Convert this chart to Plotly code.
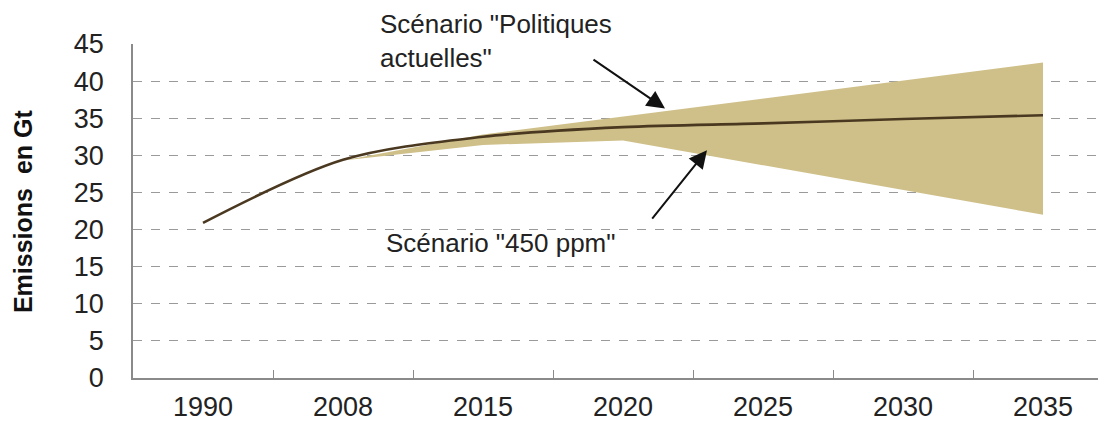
import plotly.graph_objects as go

years = ["1990", "2008", "2015", "2020", "2025", "2030", "2035"]
emissions = [20.9, 29.4, 32.5, 33.8, 34.3, 34.9, 35.4]

band_upper_years = ["2015", "2020", "2025", "2030", "2035"]
band_upper = [32.8, 35.2, 37.6, 40.1, 42.5]
band_lower_years = ["2008", "2015", "2020", "2025", "2030", "2035"]
band_lower = [29.3, 31.4, 32.0, 28.7, 25.3, 22.0]

y_ticks = [0, 5, 10, 15, 20, 25, 30, 35, 40, 45]

FONT = "Liberation Sans, Arial, sans-serif"
BAND = "#CFC08A"
LINE = "#4a3920"

fig = go.Figure()

poly_x = band_upper_years + band_lower_years[::-1]
poly_y = band_upper + band_lower[::-1]
fig.add_trace(go.Scatter(
    x=poly_x, y=poly_y, mode="lines", fill="toself",
    fillcolor=BAND, line=dict(width=0, color=BAND),
    hoverinfo="skip", showlegend=False,
))
fig.add_trace(go.Scatter(
    x=years, y=emissions, mode="lines",
    line=dict(color=LINE, width=2.6, shape="spline", smoothing=0.9),
    showlegend=False,
))

ann_font = dict(family=FONT, size=26, color="#222222")
fig.update_layout(
    width=1098, height=415,
    margin=dict(l=125, r=0, t=36, b=45, autoexpand=False),
    paper_bgcolor="white", plot_bgcolor="white",
    font=dict(family=FONT, size=26, color="#222222"),
    xaxis=dict(
        type="category", categoryorder="array", categoryarray=years,
        range=[-0.5, 6.45], automargin=False,
        showgrid=False, showline=True, linecolor="#8a8a8a", linewidth=1.5,
        ticks="inside", ticklen=8, tickcolor="#8a8a8a", tickwidth=1,
        tickson="boundaries",
        tickfont=dict(family=FONT, size=27, color="#222222"),
        ticklabelstandoff=4,
        zeroline=False,
    ),
    yaxis=dict(
        range=[0, 45], tickvals=y_ticks, automargin=False,
        showgrid=True, gridcolor="#9a9a9a", griddash="dash", gridwidth=1,
        showline=True, linecolor="#8a8a8a", linewidth=1.5,
        ticks="", zeroline=False,
        tickfont=dict(family=FONT, size=27, color="#222222"),
        ticklabelstandoff=22,
    ),
    annotations=[
        dict(text="<b>Emissions  en Gt</b>", xref="paper", yref="paper",
             x=-0.113, y=0.5, xanchor="center", yanchor="middle",
             textangle=-90, showarrow=False,
             font=dict(family=FONT, size=25, color="#111111")),
        dict(text="Scénario \"Politiques<br>actuelles\"", xref="paper", yref="paper",
             x=0.252, y=1.01, xanchor="left", yanchor="middle", align="left",
             showarrow=False, font=ann_font),
        dict(text="Scénario \"450 ppm\"", xref="x", yref="y",
             x=1.29, y=18.2, xanchor="left", yanchor="middle", align="left",
             showarrow=False, font=ann_font),
        dict(text="", xref="x", yref="y", x=3.3, y=36.3,
             ax=-73, ay=-50, showarrow=True, arrowhead=2, arrowsize=1.8,
             arrowwidth=2, arrowcolor="#111111", standoff=0),
        dict(text="", xref="x", yref="y", x=3.6, y=30.7,
             ax=-56, ay=70, showarrow=True, arrowhead=2, arrowsize=1.8,
             arrowwidth=2, arrowcolor="#111111", standoff=0),
    ],
)

fig.write_html("out.html")
